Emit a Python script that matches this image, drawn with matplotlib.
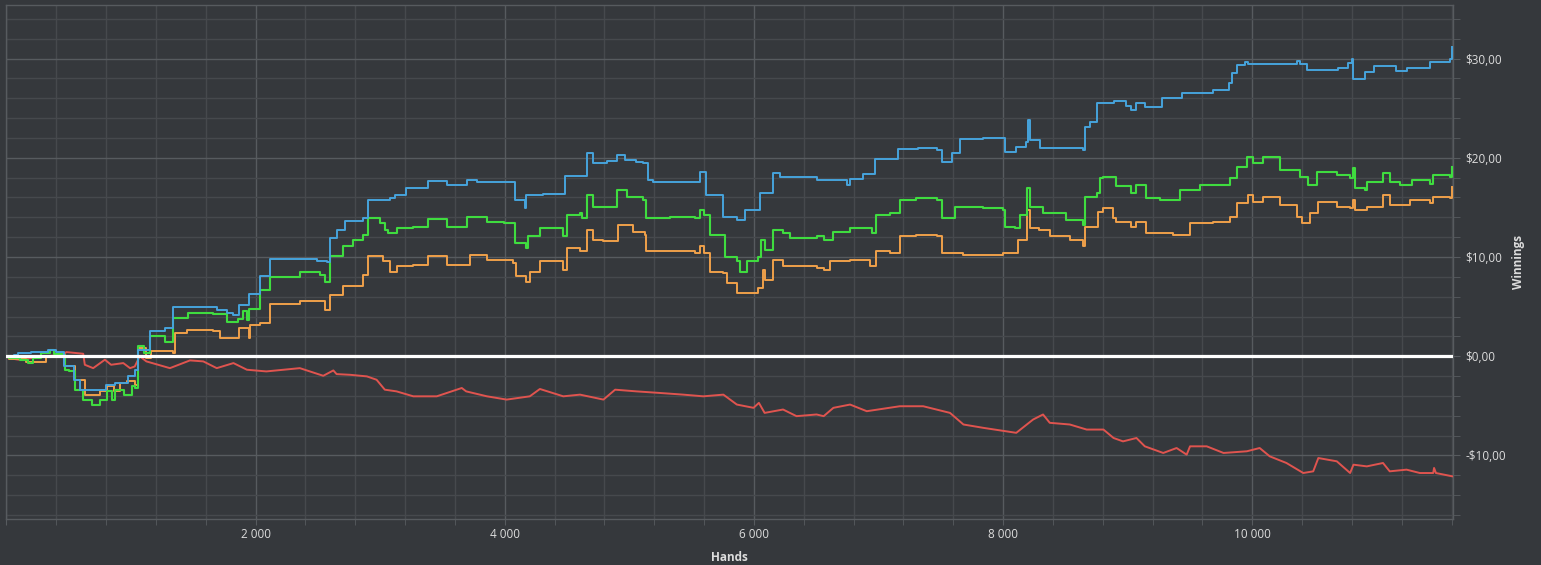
import matplotlib
matplotlib.use("Agg")
import matplotlib.pyplot as plt
from matplotlib.ticker import MultipleLocator, FuncFormatter

# cumulative winnings ($), as (hand, value) breakpoints
blue_hands = [0, 60, 90, 200, 330, 400, 465, 545, 587, 800, 868, 975, 1029, 1056, 1150, 1271, 1338, 1688,
              1769, 1822, 1863, 1943, 2032, 2113, 2490, 2570, 2597, 2651, 2718, 2866, 2906, 3077, 3117, 3211,
              3386, 3534, 3695, 3776, 4080, 4161, 4174, 4309, 4483, 4658, 4712, 4819, 4900, 4967, 5056, 5110,
              5150, 5190, 5567, 5619, 5755, 5863, 5930, 6046, 6153, 6207, 6503, 6745, 6772, 6879, 6970, 7157,
              7319, 7467, 7507, 7587, 7655, 7843, 8013, 8106, 8187, 8201, 8214, 8295, 8644, 8658, 8694, 8752,
              8887, 8990, 9030, 9071, 9138, 9272, 9434, 9689, 9810, 9837, 9877, 9944, 9966, 10356, 10385,
              10437, 10692, 10773, 10800, 10813, 10907, 10974, 11158, 11239, 11426, 11588, 11605]
blue_vals = [0, 0.1, 0.3, 0.4, 0.6, 0.4, -1.03, -2.37, -3.37, -2.87, -2.7, -2.03, -1.36, 0.65, 2.5, 2.84, 4.95,
             4.68, 4.4, 4.18, 5.19, 6.29, 8.1, 9.82, 9.6, 9.45, 11.9, 12.74, 13.68, 13.9, 15.76, 15.93, 16.26,
             16.94, 17.67, 17.27, 17.77, 17.6, 15.76, 14.92, 16.26, 16.36, 18.2, 20.46, 19.52, 19.69, 20.29,
             19.79, 19.55, 19.45, 17.77, 17.6, 18.55, 16.26, 14.08, 13.75, 14.75, 16.43, 18.45, 18.11, 17.77,
             17.27, 17.9, 18.38, 19.86, 20.87, 21.03, 20.8, 19.62, 20.46, 21.87, 22.04, 20.63, 21.13, 21.57,
             23.8, 21.8, 20.97, 20.8, 23.14, 23.65, 25.5, 25.76, 25.2, 24.82, 25.56, 25.1, 26.0, 26.57, 26.84,
             27.57, 28.52, 29.36, 29.63, 29.43, 29.79, 29.5, 28.85, 29.08, 29.59, 29.93, 27.92, 28.68, 29.25,
             28.75, 29.02, 29.69, 29.93, 31.2]

green_hands = [0, 20, 107, 172, 212, 280, 347, 380, 454, 468, 500, 548, 616, 683, 750, 804, 844, 871, 940,
               1005, 1030, 1056, 1100, 1150, 1271, 1338, 1459, 1661, 1769, 1855, 1900, 1930, 1945, 2032, 2113,
               2355, 2516, 2556, 2597, 2705, 2785, 2866, 2906, 2996, 3037, 3064, 3131, 3266, 3386, 3534, 3695,
               3857, 3990, 4080, 4174, 4185, 4282, 4470, 4497, 4604, 4620, 4658, 4712, 4792, 4900, 4981, 5110,
               5137, 5325, 5527, 5567, 5600, 5647, 5769, 5863, 5890, 5943, 6032, 6060, 6086, 6153, 6234, 6288,
               6503, 6560, 6638, 6772, 6947, 6983, 7090, 7171, 7305, 7467, 7507, 7615, 7843, 7999, 8013, 8093,
               8133, 8190, 8195, 8214, 8321, 8509, 8644, 8658, 8752, 8779, 8806, 8909, 9030, 9071, 9151, 9259,
               9420, 9582, 9823, 9877, 9957, 10006, 10087, 10221, 10383, 10450, 10517, 10679, 10786, 10813,
               10826, 10907, 10920, 11050, 11104, 11185, 11279, 11426, 11453, 11588, 11605]
green_vals = [0, -0.2, -0.35, -0.69, -0.2, 0.3, 0.65, 0.25, 0.15, -1.36, -1.53, -3.37, -4.37, -4.87, -4.37,
              -3.54, -4.37, -3.37, -3.87, -3.03, -3.2, 0.99, 0.32, 2.0, 1.48, 3.83, 4.4, 4.26, 3.49, 3.8, 4.6,
              3.7, 4.8, 6.69, 8.03, 8.54, 8.2, 7.53, 10.06, 11.07, 11.74, 12.24, 13.9, 13.4, 12.73, 12.4, 12.9,
              13.07, 13.8, 13.07, 14.08, 13.57, 13.4, 11.4, 10.9, 12.07, 12.9, 12.1, 14.25, 14.4, 13.9, 16.26,
              15.09, 15.0, 16.77, 16.1, 15.76, 13.9, 14.08, 13.9, 14.75, 14.25, 12.23, 10.05, 9.55, 8.54, 9.55,
              10.05, 11.73, 10.73, 12.74, 12.4, 11.9, 12.07, 11.67, 12.57, 12.91, 12.4, 14.24, 14.41, 15.76,
              15.93, 15.76, 13.9, 15.09, 14.92, 14.75, 13.07, 12.91, 14.24, 14.75, 16.93, 15.09, 14.41, 13.74,
              13.24, 16.09, 16.43, 17.94, 18.1, 17.11, 16.44, 17.27, 15.93, 15.76, 16.77, 17.27, 17.94, 19.11,
              20.12, 19.45, 20.05, 18.78, 18.11, 17.27, 18.61, 18.28, 17.94, 18.95, 16.94, 16.77, 17.61, 18.44,
              17.61, 17.27, 17.77, 17.37, 18.28, 18.11, 19.11]

orange_hands = [0, 20, 159, 320, 454, 468, 548, 629, 750, 804, 860, 911, 965, 1030, 1056, 1123, 1164, 1338,
                1352, 1446, 1661, 1715, 1863, 1943, 1957, 2032, 2113, 2355, 2556, 2597, 2705, 2866, 2906, 3023,
                3077, 3131, 3266, 3386, 3534, 3722, 3857, 4067, 4094, 4174, 4200, 4282, 4470, 4497, 4604, 4658,
                4712, 4792, 4913, 5029, 5123, 5137, 5527, 5567, 5600, 5647, 5755, 5782, 5863, 5970, 6032, 6073,
                6086, 6153, 6234, 6503, 6560, 6611, 6772, 6933, 6983, 7090, 7171, 7305, 7467, 7507, 7682, 7999,
                8080, 8120, 8190, 8195, 8214, 8290, 8375, 8536, 8644, 8658, 8766, 8806, 8880, 8909, 9030, 9071,
                9151, 9366, 9501, 9689, 9823, 9877, 9966, 10006, 10087, 10221, 10356, 10396, 10464, 10531,
                10679, 10786, 10813, 10826, 10920, 11050, 11104, 11265, 11426, 11453, 11588, 11605]
orange_vals = [0, -0.3, -0.54, 0.0, 0.15, -1.03, -2.37, -3.87, -3.54, -3.03, -3.5, -2.7, -2.53, -2.87, 0.82,
               -0.2, 0.48, 0.32, 2.33, 2.67, 2.5, 1.82, 2.84, 1.82, 3.17, 3.33, 5.29, 5.52, 4.68, 6.19, 7.03,
               8.2, 10.06, 9.55, 8.54, 9.05, 9.22, 10.06, 9.22, 10.23, 9.72, 9.39, 8.04, 7.53, 8.54, 9.55, 8.71,
               10.9, 10.57, 12.73, 11.74, 11.57, 13.24, 12.57, 12.23, 10.57, 10.4, 11.07, 10.4, 8.54, 8.37, 7.36,
               6.35, 6.35, 6.85, 8.71, 7.7, 9.72, 9.05, 8.88, 8.71, 9.55, 9.72, 9.05, 10.57, 10.4, 12.07, 12.24,
               12.07, 10.4, 10.23, 10.4, 10.4, 11.74, 12.57, 14.75, 12.91, 12.74, 12.07, 11.74, 11.07, 13.07,
               14.58, 14.92, 13.91, 13.57, 13.07, 13.57, 12.4, 12.23, 13.41, 13.57, 14.08, 15.42, 16.26, 15.59,
               16.09, 15.26, 14.08, 13.41, 14.41, 15.59, 15.09, 14.92, 15.76, 14.75, 15.09, 16.26, 15.26, 15.76,
               15.42, 16.09, 15.93, 17.1]

red_hands = [0, 20, 100, 320, 454, 481, 616, 629, 696, 790, 840, 938, 992, 1030, 1070, 1123, 1312, 1473, 1580,
             1688, 1822, 1930, 2086, 2355, 2543, 2624, 2650, 2758, 2893, 2971, 3037, 3131, 3266, 3454, 3655,
             3690, 3857, 4015, 4201, 4282, 4470, 4604, 4792, 4886, 5056, 5244, 5433, 5594, 5755, 5863, 5997,
             6040, 6086, 6234, 6342, 6503, 6560, 6638, 6772, 6906, 7171, 7359, 7574, 7682, 7843, 8106, 8241,
             8321, 8375, 8536, 8671, 8806, 8887, 8963, 9071, 9138, 9286, 9393, 9474, 9501, 9635, 9770, 9957,
             10060, 10141, 10275, 10410, 10490, 10531, 10679, 10786, 10813, 10920, 11050, 11104, 11239, 11346,
             11453, 11460, 11475, 11605]
red_vals = [0, -0.2, -0.35, 0.0, 0.15, 0.42, 0.25, -0.86, -1.2, -0.35, -0.86, -0.69, -1.2, -1.03, 0.0, -0.52,
            -1.2, -0.42, -0.52, -1.2, -0.69, -1.36, -1.53, -1.2, -1.97, -1.43, -1.8, -1.87, -2.03, -2.37, -3.37,
            -3.54, -4.04, -4.04, -3.2, -3.54, -4.04, -4.37, -4.04, -3.3, -4.04, -3.87, -4.37, -3.37, -3.54,
            -3.7, -3.87, -4.04, -3.87, -4.87, -5.2, -4.7, -5.71, -5.37, -6.04, -5.87, -6.04, -5.2, -4.87,
            -5.54, -5.04, -5.04, -5.71, -6.88, -7.22, -7.72, -6.38, -5.87, -6.71, -6.88, -7.39, -7.39, -8.24,
            -8.58, -8.24, -9.08, -9.75, -9.25, -9.92, -9.08, -9.08, -9.75, -9.58, -9.25, -10.09, -10.76,
            -11.77, -11.6, -10.26, -10.59, -11.77, -10.93, -11.1, -10.76, -11.6, -11.43, -11.77, -11.77,
            -11.26, -11.77, -12.1]

BG = '#35383c'
MAJOR = '#575b5f'
MINOR = '#46494d'
TXT = '#dcdcdc'

plt.rcParams['font.family'] = ['Open Sans', 'DejaVu Sans']

fig = plt.figure(figsize=(15.41, 5.65), dpi=100, facecolor=BG)
ax = fig.add_axes([0.0042, 0.0815, 0.9387, 0.9105])
ax.set_facecolor(BG)

ax.plot(red_hands, red_vals, color='#e0544f', lw=1.4, zorder=3)
ax.plot(orange_hands, orange_vals, color='#f0a04a', lw=1.4, drawstyle='steps-post', zorder=4)
ax.plot(green_hands, green_vals, color='#3fdc3f', lw=1.5, drawstyle='steps-post', zorder=5)
ax.plot(blue_hands, blue_vals, color='#46a3dc', lw=1.4, drawstyle='steps-post', zorder=6)
ax.axhline(0, color='white', lw=2.3, zorder=7)

ax.set_xlim(0, 11612)
ax.set_ylim(-16.4, 35.45)

ax.xaxis.set_major_locator(MultipleLocator(2000))
ax.xaxis.set_minor_locator(MultipleLocator(400))
ax.yaxis.set_major_locator(MultipleLocator(10))
ax.yaxis.set_minor_locator(MultipleLocator(2))


def money(v, pos):
    s = '${:.2f}'.format(abs(v)).replace('.', ',')
    return '-' + s if v < 0 else s


def hands_fmt(v, pos):
    if v <= 0:
        return ''
    return '{:,.0f}'.format(v).replace(',', ' ')


ax.yaxis.set_major_formatter(FuncFormatter(money))
ax.xaxis.set_major_formatter(FuncFormatter(hands_fmt))

ax.grid(True, which='major', color=MAJOR, lw=1.0, zorder=0)
ax.grid(True, which='minor', color=MINOR, lw=1.0, zorder=0)
ax.set_axisbelow(True)

ax.yaxis.tick_right()
ax.yaxis.set_label_position('right')
ax.tick_params(axis='y', which='both', length=5, color=MAJOR, labelcolor=TXT, labelsize=8.5, pad=4,
               left=False, right=True)
ax.tick_params(axis='x', which='both', length=4, color=MAJOR, labelcolor=TXT, labelsize=8.5, pad=2.5)

for sp in ax.spines.values():
    sp.set_color(MAJOR)
    sp.set_linewidth(1.0)

ax.set_xlabel('Hands', color=TXT, fontsize=8.5, fontweight='bold', labelpad=7)
ax.set_ylabel('Winnings', color=TXT, fontsize=8.5, fontweight='bold', labelpad=4)

fig.savefig('out.png', dpi=100, facecolor=BG)
